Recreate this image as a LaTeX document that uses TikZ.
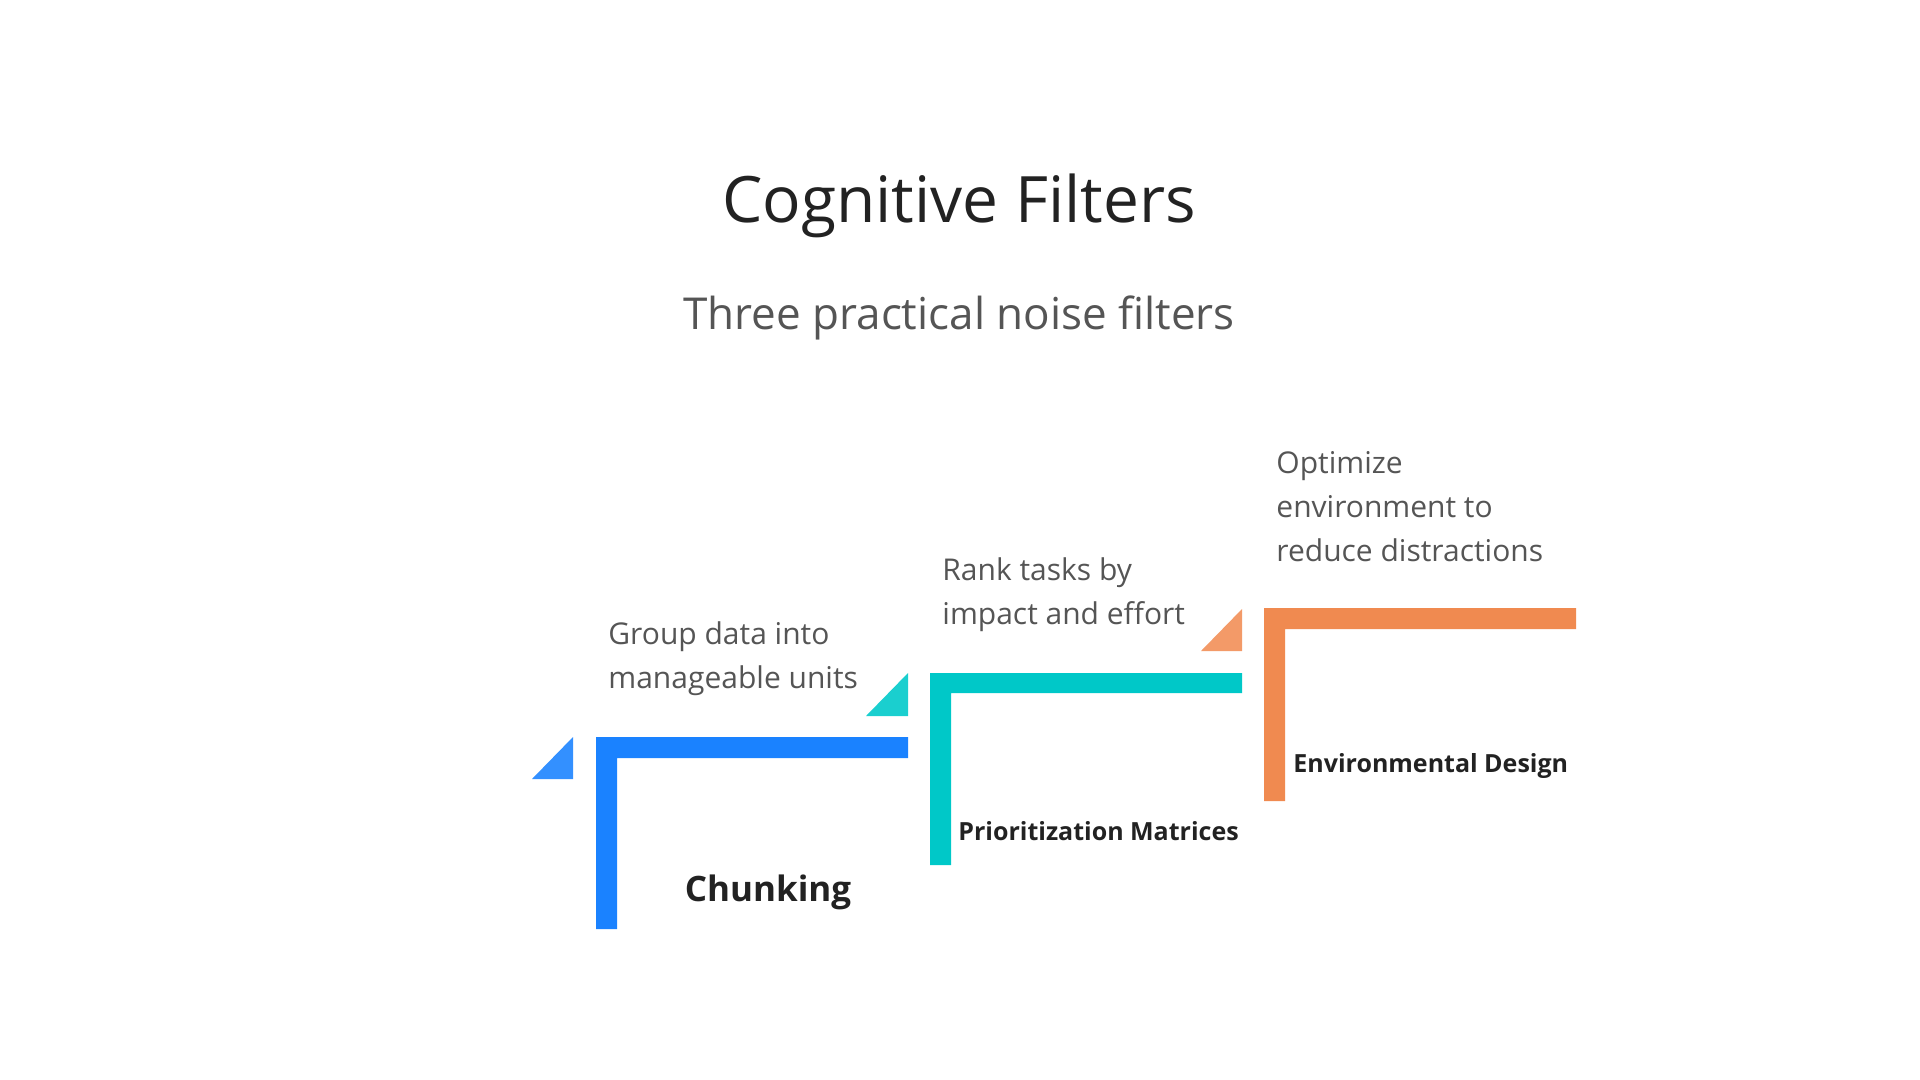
\documentclass[tikz,border=0pt]{standalone}
\usepackage{fontspec}
\setmainfont{Open Sans}
\definecolor{cblue}{HTML}{1A82FF}
\definecolor{cblueL}{HTML}{3390FF}
\definecolor{cteal}{HTML}{00C8C8}
\definecolor{ctealL}{HTML}{1ACFCF}
\definecolor{corange}{HTML}{F08A50}
\definecolor{corangeL}{HTML}{F39A68}
\definecolor{txtdark}{HTML}{222222}
\definecolor{txtgray}{HTML}{555555}
\tikzset{
  desc/.style={anchor=west,align=left,text=txtgray,font=\fontsize{15}{22}\selectfont,inner sep=0pt},
  lbl/.style={anchor=west,text=txtdark,font=\fontsize{12.5}{15}\selectfont\bfseries,inner sep=0pt}
}
\begin{document}
\begin{tikzpicture}[x=0.5pt,y=-0.5pt]
   \useasboundingbox (0,0) rectangle (1920,1080);
   \node (title) at (959,206) [text=txtdark,font=\fontsize{32}{40}\selectfont] {Cognitive Filters};
   \node (sub) at (959,318) [text=txtgray,font=\fontsize{22}{28}\selectfont] {Three practical noise filters};
   % steps
   \fill [cblue] (596,929) -- (596,737) -- (908,737) -- (908,758) -- (617,758) -- (617,929) -- cycle;
   \fill [cblueL] (532,779) -- (573,737) -- (573,779) -- cycle;
   \fill [cteal] (930,865) -- (930,673) -- (1242,673) -- (1242,693) -- (951,693) -- (951,865) -- cycle;
   \fill [ctealL] (866,716) -- (908,673) -- (908,716) -- cycle;
   \fill [corange] (1264,801) -- (1264,608) -- (1576,608) -- (1576,629) -- (1285,629) -- (1285,801) -- cycle;
   \fill [corangeL] (1201,651) -- (1242,609) -- (1242,651) -- cycle;
   % texts
   \node (d1) at (608,659) [desc] {Group data into\\manageable units};
   \node (d2) at (942,595) [desc] {Rank tasks by\\impact and effort};
   \node (d3) at (1276,507) [desc] {Optimize\\environment to\\reduce distractions};
   \node (l1) at (768,892) [text=txtdark,font=\fontsize{17.5}{21}\selectfont\bfseries] {Chunking};
   \node (l2) at (958,831) [lbl] {Prioritization Matrices};
   \node (l3) at (1293,766) [lbl] {Environmental Design};
\end{tikzpicture}
\end{document}
